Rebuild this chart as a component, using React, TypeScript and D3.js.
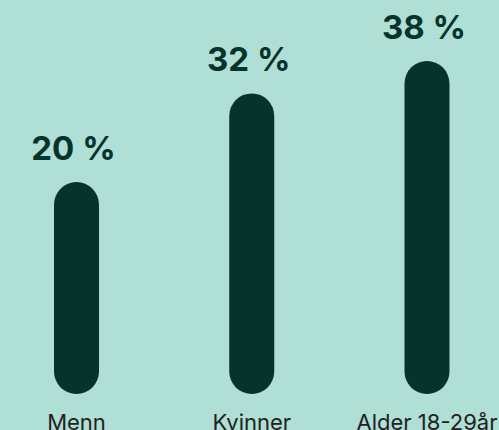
import React from "react";
import * as d3 from "d3";

const categories = ["Menn", "Kvinner", "Alder 18-29år"];
const values = [20, 32, 38];
const valueLabels = ["20 %", "32 %", "38 %"];

const W = 499;
const H = 430;
const bg = "#b0dfd5";
const barColor = "#06332b";

export default function App() {
  const x = d3.scalePoint<string>().domain(categories).range([76.5, 427]);
  // bars are not proportional in the original, a log scale fits the picture best
  const y = d3.scaleLog().domain([6.5, 38]).range([394, 61]);
  const barW = 45;

  return (
    <svg
      width={W}
      height={H}
      style={{ position: "absolute", left: 0, top: 0, background: bg }}
    >
      <rect width={W} height={H} fill={bg} />
      {categories.map((c, i) => {
        const cx = x(c) as number;
        const top = y(values[i]);
        return (
          <g key={c}>
            <rect
              x={cx - barW / 2}
              y={top}
              width={barW}
              height={394 - top}
              rx={barW / 2}
              fill={barColor}
            />
            <text
              x={cx - 3}
              y={top - 22}
              textAnchor="middle"
              fontFamily="Inter, sans-serif"
              fontWeight={700}
              fontSize={33}
              fill={barColor}
            >
              {valueLabels[i]}
            </text>
            <text
              x={cx}
              y={430}
              textAnchor="middle"
              fontFamily="Inter, sans-serif"
              fontSize={22}
              fill="#222"
            >
              {c}
            </text>
          </g>
        );
      })}
    </svg>
  );
}
